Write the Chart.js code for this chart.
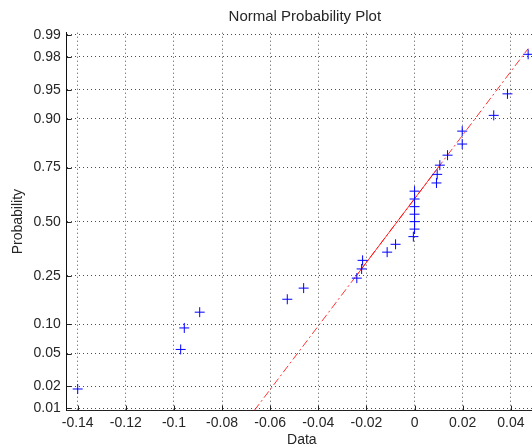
<!DOCTYPE html>
<html>
<head>
<meta charset="utf-8">
<script src="https://cdn.jsdelivr.net/npm/chart.js@4.4.1/dist/chart.umd.min.js"></script>
<style>
html,body{margin:0;padding:0;background:#fff;}
#wrap{width:532px;height:448px;position:relative;overflow:hidden;}
canvas{display:block;}
</style>
</head>
<body>
<div id="wrap"><canvas id="c" width="532" height="448"></canvas></div>
<script>
// Sorted sample values (x) and their plotting probabilities (y)
const dataX = [-0.1400, -0.0972, -0.0957, -0.0893, -0.0529, -0.0461, -0.0240, -0.0220, -0.0216,
               -0.0114, -0.0079, -0.0005, 0.0000, 0.0000, 0.0000, 0.0000, 0.0000, 0.0000,
               0.0091, 0.0094, 0.0105, 0.0137, 0.0198, 0.0198, 0.0329, 0.0386, 0.0472];
const dataProb = [0.0185, 0.0556, 0.0926, 0.1296, 0.1667, 0.2037, 0.2407, 0.2778, 0.3148,
                  0.3519, 0.3889, 0.4259, 0.4630, 0.5000, 0.5370, 0.5741, 0.6111, 0.6481,
                  0.6852, 0.7222, 0.7593, 0.7963, 0.8333, 0.8704, 0.9074, 0.9444, 0.9815];
// Reference line (dash-dot, extrapolated) and its solid part between the quartiles
const fitLineX = [-0.0666, 0.0472];
const fitLineProb = [0.0093, 0.9845];
const quartLineX = [-0.0242, 0.0098];
const quartLineProb = [0.25, 0.75];
// Axis ticks
const xTicks = [-0.14, -0.12, -0.10, -0.08, -0.06, -0.04, -0.02, 0, 0.02, 0.04];
const xTickLabels = ['-0.14', '-0.12', '-0.1', '-0.08', '-0.06', '-0.04', '-0.02', '0', '0.02', '0.04'];
const yTickProb = [0.01, 0.02, 0.05, 0.10, 0.25, 0.50, 0.75, 0.90, 0.95, 0.98, 0.99];
const yTickLabels = ['0.01', '0.02', '0.05', '0.10', '0.25', '0.50', '0.75', '0.90', '0.95', '0.98', '0.99'];
const titleText = 'Normal Probability Plot';
const xLabelText = 'Data';
const yLabelText = 'Probability';

// Probability axis transform (inverse standard normal CDF, Acklam)
function norminv(p) {
  const a = [-3.969683028665376e+01, 2.209460984245205e+02, -2.759285104469687e+02, 1.383577518672690e+02, -3.066479806614716e+01, 2.506628277459239e+00];
  const b = [-5.447609879822406e+01, 1.615858368580409e+02, -1.556989798598866e+02, 6.680131188771972e+01, -1.328068155288572e+01];
  const c = [-7.784894002430293e-03, -3.223964580411365e-01, -2.400758277161838e+00, -2.549732539343734e+00, 4.374664141464968e+00, 2.938163982698783e+00];
  const d = [7.784695709041462e-03, 3.224671290700398e-01, 2.445134137142996e+00, 3.754408661907416e+00];
  const pl = 0.02425, ph = 1 - pl;
  let q, r;
  if (p < pl) {
    q = Math.sqrt(-2 * Math.log(p));
    return (((((c[0]*q+c[1])*q+c[2])*q+c[3])*q+c[4])*q+c[5]) / ((((d[0]*q+d[1])*q+d[2])*q+d[3])*q+1);
  } else if (p <= ph) {
    q = p - 0.5; r = q * q;
    return (((((a[0]*r+a[1])*r+a[2])*r+a[3])*r+a[4])*r+a[5])*q / (((((b[0]*r+b[1])*r+b[2])*r+b[3])*r+b[4])*r+1);
  } else {
    q = Math.sqrt(-2 * Math.log(1 - p));
    return -(((((c[0]*q+c[1])*q+c[2])*q+c[3])*q+c[4])*q+c[5]) / ((((d[0]*q+d[1])*q+d[2])*q+d[3])*q+1);
  }
}

const FONT = "'Liberation Sans', Arial, Helvetica, sans-serif";
const TXT = '#262626';
const GRID = 'rgba(0,0,0,0.7)';

const decorations = {
  id: 'decorations',
  afterDatasetsDraw(chart) {
    const { ctx, chartArea: a, scales: { x, y } } = chart;
    ctx.save();
    ctx.strokeStyle = '#222';
    ctx.lineWidth = 1;
    ctx.setLineDash([]);
    ctx.beginPath();
    y.ticks.forEach(t => {
      const py = Math.round(y.getPixelForValue(t.value)) + 0.5;
      ctx.moveTo(a.left, py); ctx.lineTo(a.left + 5, py);
    });
    x.ticks.forEach(t => {
      const px = Math.round(x.getPixelForValue(t.value)) + 0.5;
      ctx.moveTo(px, a.bottom); ctx.lineTo(px, a.bottom - 5);
    });
    ctx.stroke();
    ctx.restore();
  },
  afterDraw(chart) {
    const { ctx, chartArea: a } = chart;
    // the axes box continues past the right edge of the picture (to ~539px)
    const cx = (a.left + a.right + 7) / 2;
    ctx.save();
    ctx.fillStyle = TXT;
    ctx.textAlign = 'center';
    ctx.textBaseline = 'middle';
    ctx.font = "15px " + FONT;
    ctx.fillText(titleText, cx + 2, 17);
    ctx.font = "14px " + FONT;
    ctx.fillText(xLabelText, cx - 1, 440);
    ctx.restore();
  }
};

new Chart(document.getElementById('c'), {
  type: 'scatter',
  data: {
    datasets: [
      {
        label: 'Data',
        data: dataX.map((v, i) => ({ x: v, y: norminv(dataProb[i]) })),
        pointStyle: 'cross',
        pointRadius: 5,
        pointHoverRadius: 5,
        borderColor: '#0000ff',
        backgroundColor: '#0000ff',
        borderWidth: 1,
        showLine: false,
        order: 0
      },
      {
        label: 'Fit',
        data: fitLineX.map((v, i) => ({ x: v, y: norminv(fitLineProb[i]) })),
        showLine: true,
        borderColor: 'rgba(255,0,0,0.8)',
        borderWidth: 1,
        borderDash: [8, 3, 2, 3],
        pointRadius: 0,
        pointHoverRadius: 0,
        fill: false,
        order: 2
      },
      {
        label: 'Quartiles',
        data: quartLineX.map((v, i) => ({ x: v, y: norminv(quartLineProb[i]) })),
        showLine: true,
        borderColor: 'rgba(255,0,0,0.8)',
        borderWidth: 1,
        pointRadius: 0,
        pointHoverRadius: 0,
        fill: false,
        order: 1
      }
    ]
  },
  options: {
    responsive: false,
    animation: false,
    devicePixelRatio: 1,
    events: [],
    layout: { autoPadding: false, padding: { left: 0, right: 0, top: 32.7, bottom: 0 } },
    plugins: {
      legend: { display: false },
      tooltip: { enabled: false },
      title: { display: false }
    },
    scales: {
      x: {
        type: 'linear',
        min: -0.14457,
        max: 0.0488,
        afterBuildTicks: s => { s.ticks = xTicks.map(v => ({ value: v })); },
        afterFit: s => { s.height = 37.4; s.paddingLeft = 0; s.paddingRight = 0; },
        ticks: {
          autoSkip: false, maxRotation: 0, padding: 4, color: TXT,
          font: { family: FONT, size: 14 },
          callback: (v, i) => xTickLabels[i]
        },
        grid: { color: GRID, lineWidth: 1, drawTicks: false },
        border: { display: true, color: '#222', width: 1, dash: [1, 3] },
        title: { display: false }
      },
      y: {
        type: 'linear',
        min: -2.355,
        max: 2.355,
        afterBuildTicks: s => { s.ticks = yTickProb.map(p => ({ value: norminv(p) })); },
        afterFit: s => { s.width = 66.7; s.paddingTop = 0; s.paddingBottom = 0; },
        ticks: {
          autoSkip: false, padding: 6, color: TXT,
          font: { family: FONT, size: 14 },
          callback: (v, i) => yTickLabels[i]
        },
        grid: { color: GRID, lineWidth: 1, drawTicks: false },
        border: { display: true, color: '#111', width: 1, dash: [1, 3] },
        title: { display: true, text: yLabelText, color: TXT, font: { family: FONT, size: 14 }, padding: { top: 9.6, bottom: 0 } }
      }
    }
  },
  plugins: [decorations]
});
</script>
</body>
</html>
